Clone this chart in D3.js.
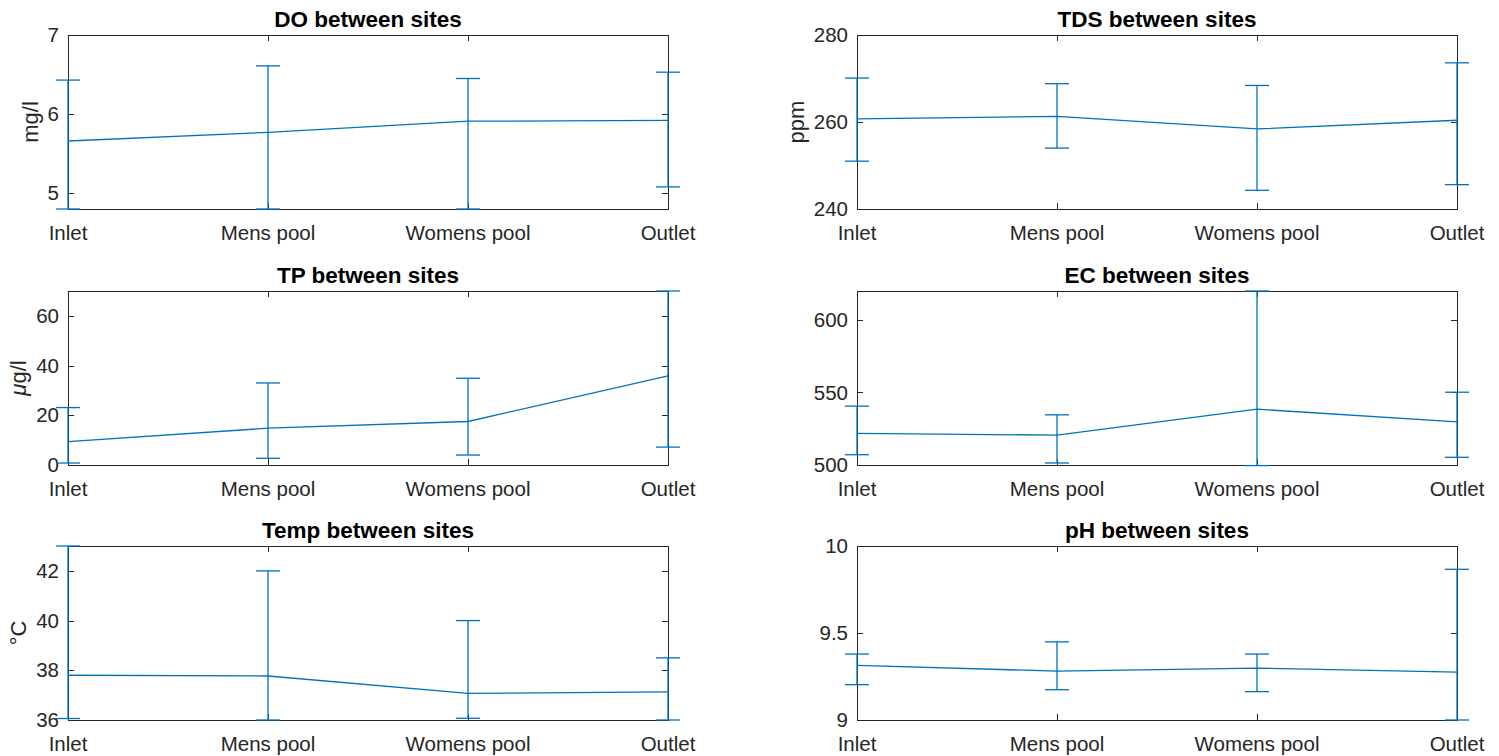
<!DOCTYPE html>
<html>
<head>
<meta charset="utf-8">
<script src="https://cdn.jsdelivr.net/npm/d3@7"></script>
<style>
  html, body { margin: 0; padding: 0; background: #fff; }
  svg { display: block; }
  text { font-family: "Liberation Sans", Arial, Helvetica, sans-serif; fill: #262626; }
</style>
</head>
<body>
<svg id="fig" width="1499" height="756"></svg>
<script>
// Sampling sites along the x axis
const sites = ["Inlet", "Mens pool", "Womens pool", "Outlet"];

// Dissolved oxygen (mg/l): mean with lower / upper bar ends
const doMean = [5.66, 5.77, 5.91, 5.92];
const doLow  = [4.80, 4.80, 4.80, 5.08];
const doHigh = [6.43, 6.61, 6.45, 6.53];
const doTicks = [5, 6, 7];

// Total dissolved solids (ppm)
const tdsMean = [260.7, 261.3, 258.4, 260.4];
const tdsLow  = [251.0, 254.0, 244.3, 245.6];
const tdsHigh = [270.1, 268.8, 268.4, 273.6];
const tdsTicks = [240, 260, 280];

// Total phosphorus (µg/l)
const tpMean = [9.4, 14.8, 17.5, 35.9];
const tpLow  = [0.8, 2.7, 4.0, 7.2];
const tpHigh = [23.1, 33.0, 34.9, 70.0];
const tpTicks = [0, 20, 40, 60];

// Electrical conductivity
const ecMean = [521.8, 520.6, 538.5, 529.8];
const ecLow  = [507.1, 501.4, 499.6, 505.3];
const ecHigh = [540.6, 534.6, 620.0, 550.2];
const ecTicks = [500, 550, 600];

// Water temperature (°C)
const tempMean = [37.80, 37.77, 37.07, 37.13];
const tempLow  = [36.06, 36.0, 36.07, 36.0];
const tempHigh = [43.0, 42.0, 40.0, 38.5];
const tempTicks = [36, 38, 40, 42];

// pH
const phMean = [9.314, 9.281, 9.298, 9.275];
const phLow  = [9.203, 9.174, 9.163, 9.0];
const phHigh = [9.379, 9.449, 9.379, 9.866];
const phTicks = [9, 9.5, 10];

const panels = [
  { title: "DO between sites",   ylabel: "mg/l", domain: [4.8, 7],   ticks: doTicks,   mean: doMean,   low: doLow,   high: doHigh },
  { title: "TDS between sites",  ylabel: "ppm",  domain: [240, 280], ticks: tdsTicks,  mean: tdsMean,  low: tdsLow,  high: tdsHigh },
  { title: "TP between sites",   ylabel: "mu",   domain: [0, 70],    ticks: tpTicks,   mean: tpMean,   low: tpLow,   high: tpHigh },
  { title: "EC between sites",   ylabel: null,   domain: [500, 620], ticks: ecTicks,   mean: ecMean,   low: ecLow,   high: ecHigh },
  { title: "Temp between sites", ylabel: "°C",   domain: [36, 43],   ticks: tempTicks, mean: tempMean, low: tempLow, high: tempHigh },
  { title: "pH between sites",   ylabel: null,   domain: [9, 10],    ticks: phTicks,   mean: phMean,   low: phLow,   high: phHigh }
];

// Subplot grid geometry
const colLeft = [68, 857];
const plotW = 600;
const rowTop = [35, 291, 546];
const plotH = 174;
const lineColor = "#0072BD";
const axisColor = "#262626";
const capHalf = 12;
const tickLen = 6;
const tickFont = 20.5;
const labelFont = 22;
const titleFont = 22.5;

const svg = d3.select("#fig");

panels.forEach((p, i) => {
  const col = i % 2, row = Math.floor(i / 2);
  const g = svg.append("g").attr("transform", `translate(${colLeft[col]},${rowTop[row]})`);

  const x = d3.scalePoint().domain(sites).range([0, plotW]);
  const y = d3.scaleLinear().domain(p.domain).range([plotH, 0]);

  // x tick labels
  g.append("g").selectAll("text").data(sites).join("text")
    .attr("x", d => x(d))
    .attr("y", plotH + 31)
    .attr("text-anchor", "middle")
    .attr("font-size", tickFont)
    .text(d => d);

  // y tick labels
  const yLab = g.append("g");
  yLab.selectAll("text").data(p.ticks).join("text")
    .attr("x", -9)
    .attr("y", d => y(d))
    .attr("dy", "0.35em")
    .attr("text-anchor", "end")
    .attr("font-size", tickFont)
    .text(d => d3.format("~g")(d));

  // inward ticks on all four sides
  const tk = g.append("g").attr("stroke", axisColor).attr("stroke-width", 1);
  p.ticks.forEach(t => {
    const yy = Math.round(y(t)) + 0.5;
    tk.append("line").attr("x1", 0).attr("x2", tickLen).attr("y1", yy).attr("y2", yy);
    tk.append("line").attr("x1", plotW - tickLen).attr("x2", plotW).attr("y1", yy).attr("y2", yy);
  });
  sites.forEach(s => {
    const xx = Math.round(x(s)) + 0.5;
    tk.append("line").attr("x1", xx).attr("x2", xx).attr("y1", 0).attr("y2", tickLen);
    tk.append("line").attr("x1", xx).attr("x2", xx).attr("y1", plotH - tickLen).attr("y2", plotH);
  });

  // box
  g.append("rect")
    .attr("x", 0.5).attr("y", 0.5)
    .attr("width", plotW).attr("height", plotH)
    .attr("fill", "none").attr("stroke", axisColor).attr("stroke-width", 1);

  // error bars
  const eb = g.append("g").attr("stroke", lineColor).attr("stroke-width", 1.3).attr("fill", "none");
  sites.forEach((s, k) => {
    const cx = x(s);
    eb.append("line").attr("x1", cx).attr("x2", cx).attr("y1", y(p.low[k])).attr("y2", y(p.high[k]));
    eb.append("line").attr("x1", cx - capHalf).attr("x2", cx + capHalf).attr("y1", y(p.low[k])).attr("y2", y(p.low[k]));
    eb.append("line").attr("x1", cx - capHalf).attr("x2", cx + capHalf).attr("y1", y(p.high[k])).attr("y2", y(p.high[k]));
  });

  // mean line
  const line = d3.line().x((d, k) => x(sites[k])).y(d => y(d));
  g.append("path").datum(p.mean)
    .attr("d", line)
    .attr("fill", "none").attr("stroke", lineColor).attr("stroke-width", 1.3);

  // title
  g.append("text")
    .attr("x", plotW / 2).attr("y", -8)
    .attr("text-anchor", "middle")
    .attr("font-size", titleFont).attr("font-weight", "bold")
    .style("fill", "#000")
    .text(p.title);

  // y label, placed left of the widest tick label
  if (p.ylabel) {
    const bb = yLab.node().getBBox();
    const lx = bb.x - 10;
    const t = g.append("text")
      .attr("transform", `translate(${lx},${plotH / 2}) rotate(-90)`)
      .attr("text-anchor", "middle")
      .attr("font-size", labelFont);
    if (p.ylabel === "mu") {
      t.append("tspan").attr("font-style", "italic").text("\u03BC");
      t.append("tspan").text("g/l");
    } else {
      t.text(p.ylabel);
    }
  }
});
</script>
</body>
</html>
